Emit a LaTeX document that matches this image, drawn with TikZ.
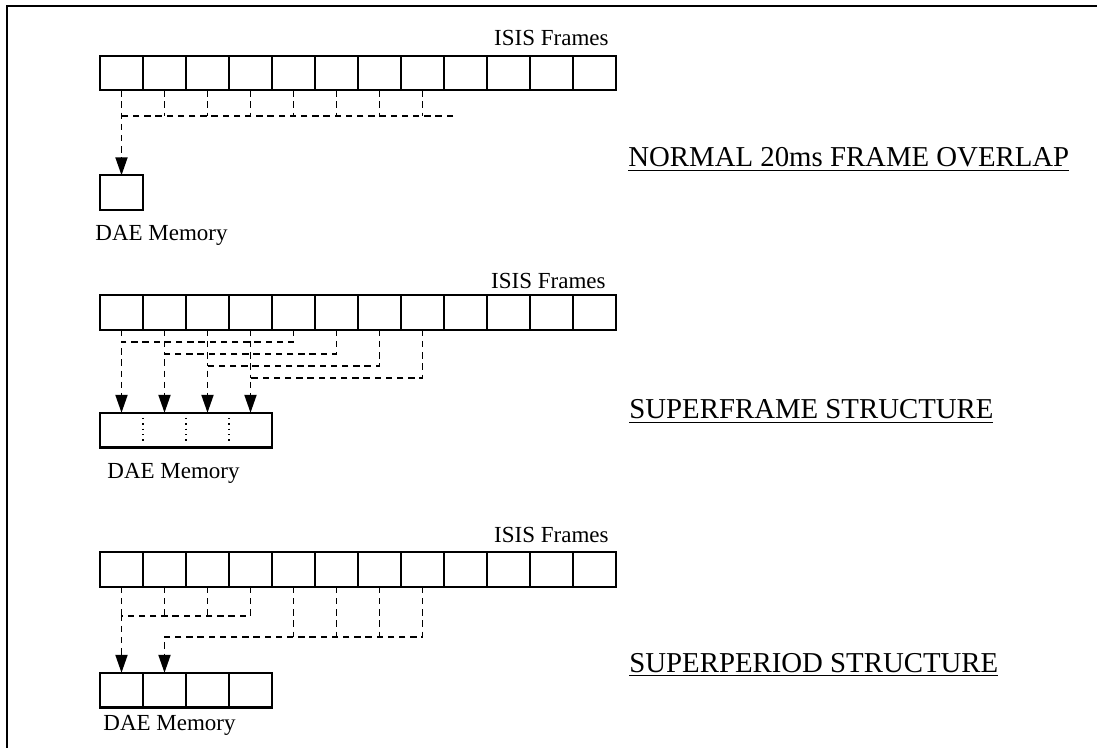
\documentclass[tikz,border=0pt]{standalone}
\usepackage{fontspec}
\setmainfont{Liberation Serif}
\usetikzlibrary{positioning,arrows.meta}
\tikzset{
  fr/.style={draw, line width=1.1pt, minimum width=21.5pt, minimum height=17.3pt,
             inner sep=0pt, outer sep=0pt},
  slot/.style={fr, draw=none},
  dl/.style={line width=0.95pt, dash pattern=on 3.2pt off 2.4pt},
  da/.style={dl, -{Triangle[length=9pt,width=6pt]}},
  lbl/.style={font=\fontsize{11.5}{13}\selectfont, inner sep=0pt},
  ttl/.style={font=\fontsize{14.4}{16}\selectfont, inner sep=0pt, anchor=base west}
}

\begin{document}
\begin{tikzpicture}[x=0.5pt, y=-0.5pt, node distance=0pt]
  \useasboundingbox (0,0) rectangle (1097,748);
  \draw[line width=1.1pt] (7,748) -- (7,6) -- (1097,6);

  % normal overlap
  \node[fr] (a1) at (121.5,73) {};
  \foreach \i [count=\j from 2] in {1,...,11} \node[fr, right=of a\i] (a\j) {};
  \node[lbl, anchor=base east] (fa) at ([xshift=-3.5pt,yshift=5pt]a12.north east) {ISIS Frames};
  \node[fr, below=42.5pt of a1] (m1) {};
  \node[lbl, anchor=base west] (da) at ([xshift=-2.5pt,yshift=-15.5pt]m1.south west) {DAE Memory};
  \coordinate (e1) at (453,116);
  \foreach \i in {2,...,8} \draw[dl] (a\i.south) -- (a\i.south |- e1);
  \draw[dl] (e1) -- (e1 -| a1.south);
  \draw[da] (a1.south) -- (m1.north);
  \node[ttl] (t1) at (628,167) {\underline{NORMAL 20ms FRAME OVERLAP}};

  % superframe
  \node[fr] (b1) at (121.5,312.5) {};
  \foreach \i [count=\j from 2] in {1,...,11} \node[fr, right=of b\i] (b\j) {};
  \node[lbl, anchor=base east] (fb) at ([xshift=-5pt,yshift=3.5pt]b12.north east) {ISIS Frames};
  \node[slot, below=41.5pt of b1] (ms1) {};
  \foreach \i [count=\j from 2] in {1,2,3} \node[slot, right=of ms\i] (ms\j) {};
  \draw[line width=1.1pt] (ms1.north west) rectangle (ms4.south east);
  \foreach \i in {1,2,3} \draw[dotted, line width=0.7pt] ([yshift=-2.5pt]ms\i.north east) -- ([yshift=2.5pt]ms\i.south east);
  \node[lbl, anchor=base west] (db) at ([xshift=3.5pt,yshift=-15.5pt]ms1.south west) {DAE Memory};
  \foreach \i/\k in {1/5,2/6,3/7,4/8} {
    \draw[dl] (b\i.south) -- ++(0,12*\i);
    \draw[da] (b\k.south) -- ++(0,12*\i) -| (ms\i.north);
  }
  \node[ttl] (t2) at (629,419) {\underline{SUPERFRAME STRUCTURE}};

  % superperiod
  \node[fr] (c1) at (121.5,569.5) {};
  \foreach \i [count=\j from 2] in {1,...,11} \node[fr, right=of c\i] (c\j) {};
  \node[lbl, anchor=base east] (fc) at ([xshift=-3.5pt,yshift=5pt]c12.north east) {ISIS Frames};
  \node[fr, below=43pt of c1] (mc1) {};
  \foreach \i [count=\j from 2] in {1,2,3} \node[fr, right=of mc\i] (mc\j) {};
  \node[lbl, anchor=base west] (dc) at ([xshift=1.5pt,yshift=-11.5pt]mc1.south west) {DAE Memory};
  \foreach \i in {1,2,3} \draw[dl] (c\i.south) -- ++(0,29);
  \draw[da] (c4.south) -- ++(0,29) -| (mc1.north);
  \foreach \i in {5,6,7} \draw[dl] (c\i.south) -- ++(0,50);
  \draw[da] (c8.south) -- ++(0,50) -| (mc2.north);
  \node[ttl] (t3) at (629,672) {\underline{SUPERPERIOD STRUCTURE}};
\end{tikzpicture}
\end{document}
